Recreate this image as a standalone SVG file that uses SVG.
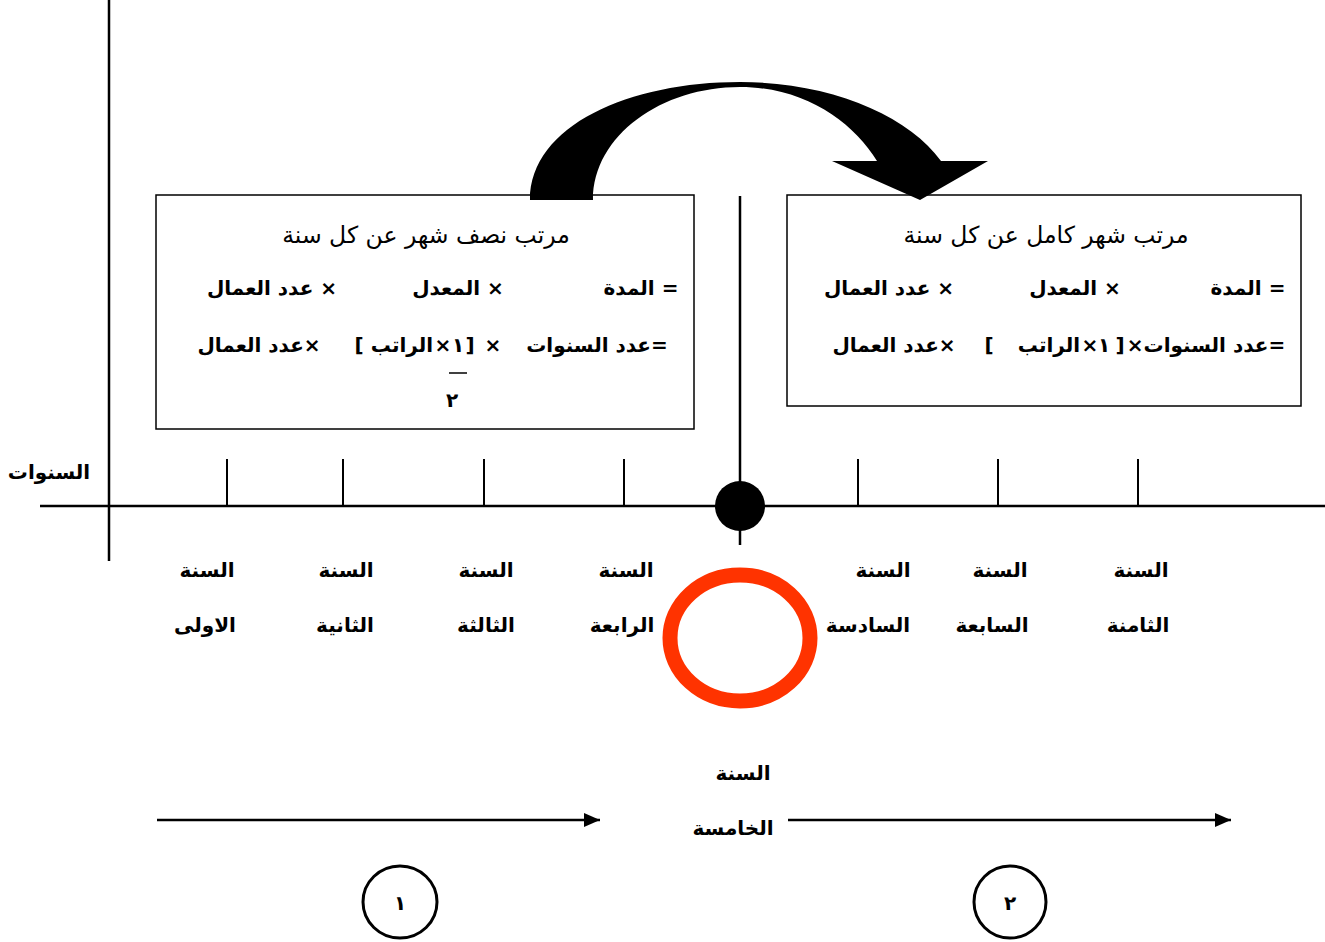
<svg xmlns="http://www.w3.org/2000/svg" width="1325" height="942" viewBox="0 0 1325 942">
<style>
.ar{font-family:"DejaVu Sans","Noto Sans",sans-serif;fill:#000;text-anchor:middle;direction:rtl}
.ltr{direction:ltr}
.b{font-weight:bold;font-size:20px}
.n{font-size:23.5px}
.box{fill:#fff;stroke:#000;stroke-width:1.5}
.ax{stroke:#000;stroke-width:2.5;fill:none}
.tk{stroke:#000;stroke-width:2;fill:none}
.ln{stroke:#000;stroke-width:2.5;fill:none}
</style>
<defs>
<marker id="ah2" viewBox="0 0 16 14" refX="16" refY="7" markerWidth="16" markerHeight="14" orient="auto" markerUnits="userSpaceOnUse">
<path d="M0,0 L16,7 L0,14 Z" fill="#000"/>
</marker>
</defs>
<rect width="1325" height="942" fill="#fff"/>

<g id="axes">
<line class="ax" x1="109" y1="0" x2="109" y2="561"/>
<line class="ax" x1="40" y1="506" x2="1325" y2="506"/>
<line class="ax" x1="740" y1="196" x2="740" y2="545"/>
<g class="tk">
<line x1="227" y1="459" x2="227" y2="506"/>
<line x1="343" y1="459" x2="343" y2="506"/>
<line x1="484" y1="459" x2="484" y2="506"/>
<line x1="624" y1="459" x2="624" y2="506"/>
<line x1="858" y1="459" x2="858" y2="506"/>
<line x1="998" y1="459" x2="998" y2="506"/>
<line x1="1138" y1="459" x2="1138" y2="506"/>
</g>
<circle cx="740" cy="506" r="25" fill="#000"/>
<text class="ar b" x="49" y="479">السنوات</text>
</g>

<g id="box-left">
<rect class="box" x="156" y="195" width="538" height="234"/>
<text class="ar n" x="426" y="243">مرتب نصف شهر عن كل سنة</text>
<text class="ar b" x="641" y="295">= المدة</text>
<text class="ar b" x="458" y="295">× المعدل</text>
<text class="ar b" x="272" y="295">× عدد العمال</text>
<text class="ar b" x="597" y="352">=عدد السنوات</text>
<text class="ar b ltr" x="493" y="352">×</text>
<text class="ar b ltr" x="470" y="352">]</text>
<text class="ar b" x="458" y="352">١</text>
<text class="ar b ltr" x="443" y="352">×</text>
<text class="ar b" x="402" y="352">الراتب</text>
<text class="ar b ltr" x="359" y="352">[</text>
<text class="ar b" x="259" y="352">×عدد العمال</text>
<line x1="449" y1="373" x2="467" y2="373" stroke="#000" stroke-width="1.5"/>
<text class="ar b" x="452" y="407">٢</text>
</g>

<g id="box-right">
<rect class="box" x="787" y="195" width="514" height="211"/>
<text class="ar n" x="1046" y="243">مرتب شهر كامل عن كل سنة</text>
<text class="ar b" x="1248" y="295">= المدة</text>
<text class="ar b" x="1075" y="295">× المعدل</text>
<text class="ar b" x="889" y="295">× عدد العمال</text>
<text class="ar b" x="1206" y="352">=عدد السنوات×</text>
<text class="ar b ltr" x="1120" y="352">]</text>
<text class="ar b" x="1104" y="352">١</text>
<text class="ar b ltr" x="1090" y="352">×</text>
<text class="ar b" x="1049" y="352">الراتب</text>
<text class="ar b ltr" x="989" y="352">[</text>
<text class="ar b" x="894" y="352">×عدد العمال</text>
</g>

<g id="curved-arrow">
<path d="M530,200 C530,125 630,82 740,82 C830,82 908,115 941,161 L988,161 L920,200 L832,161 L877,161 C853,122 805,87 740,87 C662,87 593,135 593,200 Z" fill="#000"/>
</g>

<g id="fifth-year-mark">
<ellipse cx="740" cy="638" rx="70" ry="63" fill="none" stroke="#FF3300" stroke-width="15"/>
</g>

<g id="year-labels">
<text class="ar b" x="207" y="577">السنة</text><text class="ar b" x="205" y="632">الاولى</text>
<text class="ar b" x="346" y="577">السنة</text><text class="ar b" x="345" y="632">الثانية</text>
<text class="ar b" x="486" y="577">السنة</text><text class="ar b" x="486" y="632">الثالثة</text>
<text class="ar b" x="626" y="577">السنة</text><text class="ar b" x="622" y="632">الرابعة</text>
<text class="ar b" x="883" y="577">السنة</text><text class="ar b" x="868" y="632">السادسة</text>
<text class="ar b" x="1000" y="577">السنة</text><text class="ar b" x="992" y="632">السابعة</text>
<text class="ar b" x="1141" y="577">السنة</text><text class="ar b" x="1138" y="632">الثامنة</text>
<text class="ar b" x="743" y="780">السنة</text><text class="ar b" x="733" y="835">الخامسة</text>
</g>

<g id="connectors">
<line class="ln" x1="157" y1="820" x2="600" y2="820" marker-end="url(#ah2)"/>
<line class="ln" x1="788" y1="820" x2="1231" y2="820" marker-end="url(#ah2)"/>
</g>

<g id="period-1">
<ellipse cx="400" cy="902" rx="37" ry="36" fill="none" stroke="#000" stroke-width="3"/>
<text class="ar b" x="400" y="910">١</text>
</g>
<g id="period-2">
<ellipse cx="1010" cy="902" rx="36" ry="36" fill="none" stroke="#000" stroke-width="3"/>
<text class="ar b" x="1010" y="910">٢</text>
</g>
</svg>
